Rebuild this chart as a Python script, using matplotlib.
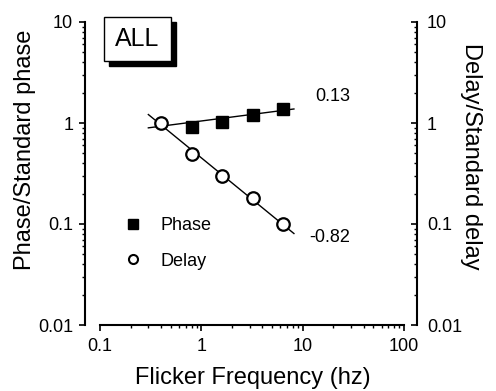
import numpy as np
import matplotlib
matplotlib.use("Agg")
import matplotlib.pyplot as plt
from matplotlib.lines import Line2D
from matplotlib.patches import Rectangle

plt.rcParams['font.family'] = ['Liberation Sans', 'DejaVu Sans']

# ---- data ----
phase_freq = [0.8, 1.6, 3.2, 6.4]
phase_vals = [0.92, 1.03, 1.20, 1.38]
delay_freq = [0.4, 0.8, 1.6, 3.2, 6.4]
delay_vals = [1.0, 0.495, 0.30, 0.179, 0.100]
fit_slopes = [0.13, -0.82]
fit_intercepts = [0.020, -0.345]   # log10 intercepts
fit_range = [0.3, 8.2]
slope_labels = ["0.13", "-0.82"]
slope_label_pos = [(13.2, 1.83), (11.6, 0.073)]
x_ticks = [0.1, 1, 10, 100]
x_ticklabels = ["0.1", "1", "10", "100"]
y_ticks = [0.01, 0.1, 1, 10]
y_ticklabels = ["0.01", "0.1", "1", "10"]
series_names = ["Phase", "Delay"]

fig = plt.figure(figsize=(4.96, 3.91), dpi=100)
ax = fig.add_axes([100/496, 1-325/391, 304/496, 303/391])
ax.set_xscale('log')
ax.set_yscale('log')
ax.set_xlim(0.1, 100)
ax.set_ylim(0.01, 10)

# fit lines
xf = np.array(fit_range)
for b, a in zip(fit_slopes, fit_intercepts):
    ax.plot(xf, 10**(a + b*np.log10(xf)), color='black', lw=1.0, zorder=2)

ax.plot(phase_freq, phase_vals, linestyle='none', marker='s', ms=8.5,
        color='black', zorder=3)
ax.plot(delay_freq, delay_vals, linestyle='none', marker='o', ms=9.0,
        mfc='white', mec='black', mew=1.6, zorder=3)

for lab, (px, py) in zip(slope_labels, slope_label_pos):
    ax.text(px, py, lab, fontsize=13, ha='left', va='center')

# spines
for s in ['top', 'right']:
    ax.spines[s].set_visible(False)
ax.spines['left'].set_position(('outward', 10.8))
for s in ['left', 'bottom']:
    ax.spines[s].set_linewidth(1.5)

ax.set_xticks(x_ticks)
ax.set_xticklabels(x_ticklabels)
ax.set_yticks(y_ticks)
ax.set_yticklabels(y_ticklabels)
ax.tick_params(which='major', direction='out', length=4.5, width=1.2,
               labelsize=13)
ax.tick_params(which='minor', direction='out', length=2.5, width=1.0)
ax.tick_params(axis='x', pad=5)
ax.tick_params(axis='y', pad=4)

ax2 = ax.twinx()
ax2.set_yscale('log')
ax2.set_ylim(0.01, 10)
for s in ['top', 'left', 'bottom']:
    ax2.spines[s].set_visible(False)
ax2.spines['right'].set_position(('outward', 9.4))
ax2.spines['right'].set_linewidth(1.5)
ax2.set_yticks(y_ticks)
ax2.set_yticklabels(y_ticklabels)
ax2.tick_params(which='major', direction='in', length=4.5, width=1.2,
                labelsize=13, pad=7)
ax2.tick_params(which='minor', direction='in', length=2.5, width=1.0)

# legend
handles = [Line2D([], [], linestyle='none', marker='s', ms=7, color='black'),
           Line2D([], [], linestyle='none', marker='o', ms=6.5, mfc='white',
                  mec='black', mew=1.5)]
ax.legend(handles, series_names, loc='center left',
          bbox_to_anchor=(0.079, 0.269), frameon=False, fontsize=13,
          handlelength=1.0, handletextpad=1.0, labelspacing=1.0,
          borderpad=0, borderaxespad=0)

# ALL box with shadow
fig.patches.append(Rectangle((109/496, 1-66/391), 67/496, 44/391,
                             transform=fig.transFigure, facecolor='black',
                             edgecolor='black', zorder=5))
fig.patches.append(Rectangle((104/496, 1-61/391), 67/496, 44/391,
                             transform=fig.transFigure, facecolor='white',
                             edgecolor='black', lw=1.0, zorder=6))
fig.text(137.5/496, 1-39/391, "ALL", fontsize=18, ha='center', va='center',
         zorder=7)

# axis labels
fig.text(25/496, 1-150/391, "Phase/Standard phase", fontsize=17,
         rotation=90, ha='center', va='center')
fig.text(471/496, 1-156/391, "Delay/Standard delay", fontsize=17,
         rotation=270, ha='center', va='center')
fig.text(252.5/496, 1-378/391, "Flicker Frequency (hz)", fontsize=17,
         ha='center', va='center')

fig.savefig("out.png", dpi=100)
